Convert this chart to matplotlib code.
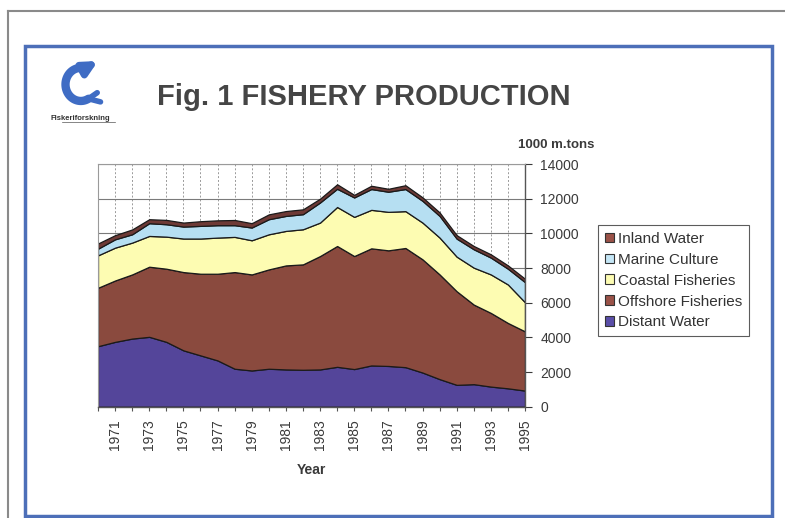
import numpy as np
import matplotlib
matplotlib.use("Agg")
import matplotlib.pyplot as plt
from matplotlib.lines import Line2D
from matplotlib.patches import Rectangle, FancyArrowPatch, Patch

plt.rcParams['font.family'] = ['Liberation Sans', 'DejaVu Sans']

years = list(range(1970, 1996))
distant_water = [3490, 3740, 3930, 4030, 3740, 3250, 2960, 2670, 2190, 2090, 2190, 2150, 2130,
                 2150, 2300, 2170, 2380, 2350, 2280, 1970, 1590, 1260, 1300, 1160, 1060, 930]
offshore_fisheries = [3370, 3540, 3700, 4045, 4220, 4515, 4710, 5000, 5575, 5540, 5730, 6000, 6080,
                      6540, 6970, 6520, 6755, 6670, 6875, 6530, 6040, 5400, 4590, 4250, 3770, 3415]
coastal_fisheries = [1870, 1895, 1835, 1775, 1850, 1935, 2030, 2085, 2030, 1970, 2025, 1990, 2025,
                     1930, 2250, 2260, 2220, 2220, 2125, 2120, 2125, 1995, 2130, 2220, 2220, 1680]
marine_culture = [385, 480, 480, 735, 715, 690, 730, 715, 675, 735, 870, 865, 870,
                  1160, 1050, 1120, 1200, 1160, 1275, 1255, 1250, 1040, 1060, 970, 910, 1160]
inland_water = [300, 240, 280, 230, 250, 230, 270, 280, 300, 250, 280, 280, 280,
                220, 260, 150, 190, 170, 220, 200, 200, 200, 190, 190, 190, 195]

series_names = ["Distant Water", "Offshore Fisheries", "Coastal Fisheries", "Marine Culture", "Inland Water"]
colors = ["#54459a", "#8a4a3e", "#fdfcb2", "#b6dff2", "#6e3a36"]
legend_colors = ["#5a4ea8", "#9a5248", "#fdfcb2", "#c4e6f6", "#9a5248"]

W, H = 785, 518
fig = plt.figure(figsize=(W / 100, H / 100), dpi=100)
fig.patch.set_facecolor("white")

def fx(x):
    return x / W

def fy(y):
    return 1 - y / H

# frames
fig.add_artist(Line2D([fx(8), fx(785)], [fy(11), fy(11)], color="#8a8a8a", lw=1.5))
fig.add_artist(Line2D([fx(8), fx(8)], [fy(11), fy(518)], color="#8a8a8a", lw=1.5))
fig.add_artist(Rectangle((fx(25), fy(516)), fx(772) - fx(25), fy(46) - fy(516),
                         fill=False, edgecolor="#4d6fb8", lw=2.5))

# title
fig.text(fx(364), fy(97), "Fig. 1 FISHERY PRODUCTION", ha="center", va="center",
         fontsize=21, fontweight="bold", color="#454545")
fig.text(fx(556), fy(145), "1000 m.tons", ha="center", va="center",
         fontsize=9.5, fontweight="bold", color="#3a3a3a")

# logo
lax = fig.add_axes([fx(48), fy(112), fx(118) - fx(48), fy(55) - fy(112)])
lax.set_xlim(-1.6, 1.6)
lax.set_ylim(-1.5, 1.6)
lax.axis("off")
t = np.linspace(np.radians(70), np.radians(300), 60)
lax.plot(0.7 * np.cos(t) - 0.1, 0.9 * np.sin(t), color="#3f6cc4", lw=6, solid_capstyle="round")
lax.add_patch(FancyArrowPatch((0.05, 0.85), (0.8, 1.35), arrowstyle="-|>", mutation_scale=20,
                              color="#3f6cc4", lw=5))
lax.plot([0.25, 0.65], [-0.78, -0.45], color="#3f6cc4", lw=4, solid_capstyle="round")
lax.plot([0.25, 0.8], [-0.78, -0.95], color="#3f6cc4", lw=4, solid_capstyle="round")
fig.text(fx(80), fy(118), "Fiskeriforskning", ha="center", va="center", fontsize=5.5,
         fontweight="bold", color="#333333")
fig.add_artist(Line2D([fx(62), fx(115)], [fy(122), fy(122)], color="#555555", lw=0.5))

# main chart
ax = fig.add_axes([fx(98), fy(406.7), fx(525) - fx(98), fy(164) - fy(406.7)])
polys = ax.stackplot(years, distant_water, offshore_fisheries, coastal_fisheries,
                     marine_culture, inland_water, colors=colors, edgecolor="#1a1a1a",
                     linewidth=0.9, labels=series_names)
ax.set_xlim(1970, 1995)
ax.set_ylim(0, 14000)
ax.set_axisbelow(True)
ax.yaxis.tick_right()
ax.set_yticks(range(0, 14001, 2000))
ax.set_xticks(years)
ax.set_xticklabels([str(y) if y % 2 == 1 else "" for y in years], rotation=90)
ax.tick_params(axis="y", labelsize=10, colors="#3a3a3a", length=5, pad=6, labelcolor="#3a3a3a")
ax.tick_params(axis="x", labelsize=10, colors="#555555", length=3, pad=6, labelcolor="#3a3a3a")
ax.grid(axis="x", color="#9a9a9a", linestyle=(0, (2, 2)), lw=0.7)
ax.grid(axis="y", color="#7a7a7a", linestyle="-", lw=0.8)
for s in ["left", "top"]:
    ax.spines[s].set_color("#9a9a9a")
    ax.spines[s].set_linewidth(0.8)
for s in ["right", "bottom"]:
    ax.spines[s].set_color("#555555")
    ax.spines[s].set_linewidth(1.0)

fig.text(fx(311), fy(470), "Year", ha="center", va="center", fontsize=10,
         fontweight="bold", color="#3a3a3a")

handles = [Patch(facecolor=legend_colors[i], edgecolor="#333333", lw=0.8) for i in range(5)][::-1]
labels = series_names[::-1]
leg = fig.legend(handles, labels, loc="upper left", bbox_to_anchor=(fx(598), fy(225)),
                 bbox_transform=fig.transFigure, fontsize=11, frameon=True, fancybox=False,
                 edgecolor="#333333", handlelength=0.6, handleheight=0.6, handletextpad=0.25,
                 labelspacing=0.45, borderpad=0.45, borderaxespad=0)
leg.get_frame().set_linewidth(0.8)
for txt in leg.get_texts():
    txt.set_color("#333333")

fig.savefig("out.png", dpi=100)
